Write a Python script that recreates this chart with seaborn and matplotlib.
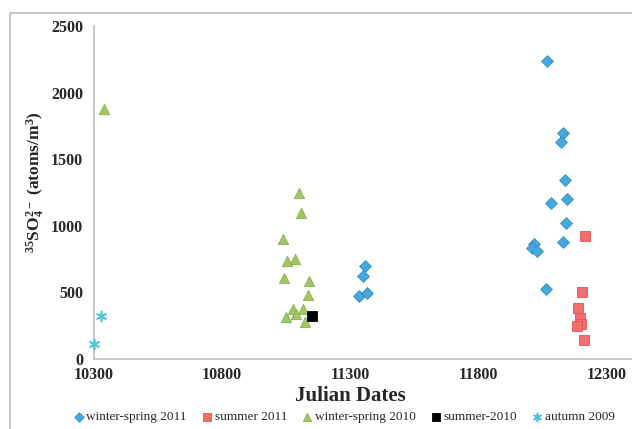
import pandas as pd
import matplotlib
matplotlib.use("Agg")
import matplotlib.pyplot as plt
import matplotlib.patches as mpatches
import seaborn as sns

# Julian dates and 35SO4 activity (atoms/m3)
ws2011_x = [11359, 11351, 11335, 11366,
            12070, 12132, 12124, 12140, 12085, 12148, 12144, 12132, 12019, 12011, 12030, 12066]
ws2011_y = [698, 623, 473, 495,
            2237, 1697, 1629, 1344, 1171, 1201, 1021, 878, 863, 833, 811, 526]

su2011_x = [12218, 12206, 12191, 12198, 12202, 12187, 12214]
su2011_y = [925, 503, 383, 308, 263, 248, 143]

ws2010_x = [10339, 11101, 11109, 11038, 11054, 11085, 11042, 11140, 11136,
            11077, 11117, 11050, 11089, 11124]
ws2010_y = [1877, 1246, 1096, 901, 736, 751, 608, 586, 480,
            375, 375, 315, 338, 278]

su2010_x = [11152]
su2010_y = [323]

au2009_x = [10300, 10327]
au2009_y = [113, 323]

x_ticks = [10300, 10800, 11300, 11800, 12300]
y_ticks = [0, 500, 1000, 1500, 2000, 2500]

series = [
    ("winter-spring 2011", ws2011_x, ws2011_y, "D", "#47A8E0", "#2F8CC4", 36),
    ("summer 2011", su2011_x, su2011_y, "s", "#F46E6E", "#E05555", 60),
    ("winter-spring 2010", ws2010_x, ws2010_y, "^", "#A3C565", "#8BB04E", 55),
    ("summer-2010", su2010_x, su2010_y, "s", "#000000", "#000000", 60),
    ("autumn 2009", au2009_x, au2009_y, (6, 2, 0), "#4CC6DA", "#4CC6DA", 50),
]


def main():
    sns.set_theme(style="white")
    plt.rcParams["font.family"] = ["Liberation Serif", "DejaVu Serif"]
    plt.rcParams["mathtext.fontset"] = "custom"
    plt.rcParams["mathtext.rm"] = "Liberation Serif"
    plt.rcParams["mathtext.bf"] = "Liberation Serif:bold"

    fig = plt.figure(figsize=(6.32, 4.29), dpi=100)
    ax = fig.add_axes([94 / 632, 70 / 429, 538 / 632, 333 / 429])

    for name, xs, ys, mk, fc, ec, s in series:
        df = pd.DataFrame({"date": xs, "so4": ys})
        lw = 1.2 if name == "autumn 2009" else 0.6
        sns.scatterplot(data=df, x="date", y="so4", marker=mk, color=fc,
                        edgecolor=ec, linewidth=lw, s=s, label=name, ax=ax,
                        zorder=3, clip_on=False)

    ax.set_xlim(10300, 12400)
    ax.set_ylim(0, 2500)
    ax.set_xticks(x_ticks)
    ax.set_yticks(y_ticks)
    ax.tick_params(axis="both", length=0, labelsize=11.5)
    ax.tick_params(axis="y", pad=8)
    ax.tick_params(axis="x", pad=6)
    for lab in ax.get_xticklabels() + ax.get_yticklabels():
        lab.set_fontweight("bold")

    sns.despine(ax=ax)
    for sp in ["left", "bottom"]:
        ax.spines[sp].set_color("#BFBFBF")
        ax.spines[sp].set_linewidth(1.2)

    ax.set_xlabel("Julian Dates", fontsize=15, fontweight="bold")
    ax.xaxis.set_label_coords(256 / 538, -0.08)
    ax.set_ylabel(r"$\mathbf{^{35}SO_4^{2-}}$ (atoms/m$\mathbf{^3}$)",
                  fontsize=12.5, fontweight="bold")
    ax.yaxis.set_label_coords(-(94 - 47) / 538, 0.53)

    handles, labels = ax.get_legend_handles_labels()
    ax.get_legend().remove()
    fig.legend(handles, labels, loc="center", bbox_to_anchor=(344 / 632, 1 - 417 / 429),
               ncol=5, frameon=False, fontsize=9.5, handletextpad=0.2,
               handlelength=0.8, columnspacing=1.1, markerscale=0.8, borderaxespad=0)

    # outer chart frame (top and left edges visible)
    frame = mpatches.Rectangle((10 / 632, -0.2), 1.5, (429 - 13) / 429 + 0.2,
                               transform=fig.transFigure, fill=False,
                               edgecolor="#BFBFBF", linewidth=1.2)
    fig.patches.append(frame)

    fig.savefig("out.png", dpi=100)


if __name__ == "__main__":
    main()
